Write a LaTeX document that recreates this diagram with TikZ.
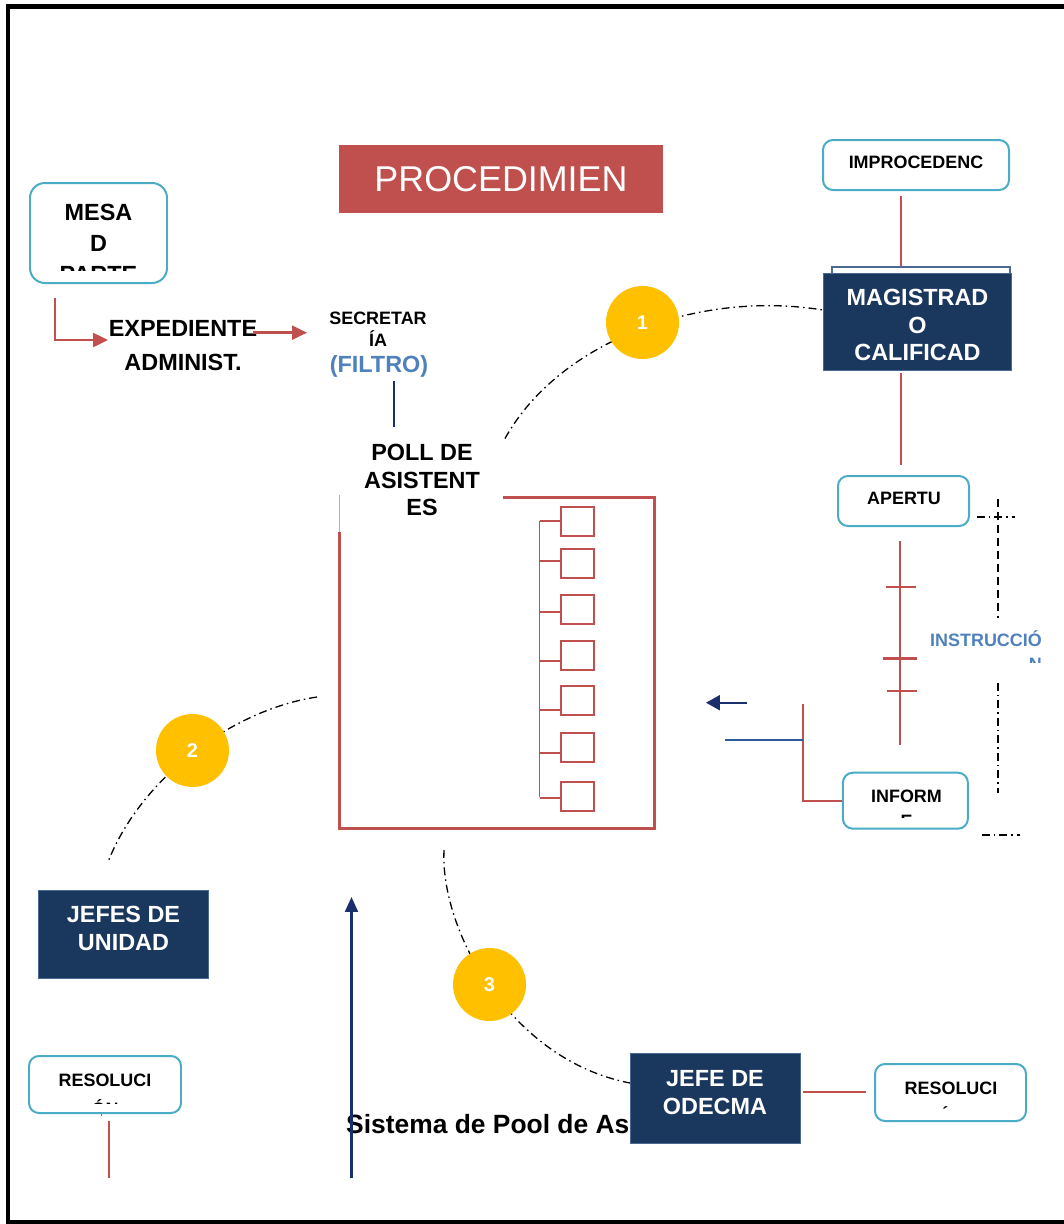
\documentclass[tikz,border=0pt]{standalone}
\usepackage{fontspec}
\setmainfont{Liberation Sans}
\usetikzlibrary{arrows.meta}

\definecolor{procred}{HTML}{C0504D}
\definecolor{boxcyan}{HTML}{4BACC6}
\definecolor{navyfill}{HTML}{1A375E}
\definecolor{navyedge}{HTML}{4A6A94}
\definecolor{navyarrow}{HTML}{1A2F6B}
\definecolor{navylink}{HTML}{2E5A96}
\definecolor{filtroblue}{HTML}{4F81BD}
\definecolor{badgegold}{HTML}{FFC000}

\begin{document}
\begin{tikzpicture}[x=1bp,y=-1bp,
  rbox/.style={draw=boxcyan, line width=2pt, rounded corners=10pt, fill=white, inner sep=0pt},
  nbox/.style={draw=navyedge, line width=1pt, fill=navyfill, inner sep=0pt},
  capA/.style={font=\bfseries\fontsize{23.5}{28}\selectfont, align=center, inner sep=0pt},
  capW/.style={capA, text=white},
  capS/.style={font=\bfseries\fontsize{18}{22}\selectfont, inner sep=0pt},
  redln/.style={draw=procred, line width=2.5pt},
  thinred/.style={draw=procred, line width=1.5pt},
  navyln/.style={draw=navyarrow, line width=2.2pt},
  cyc/.style={draw=black, line width=1.3pt, dash pattern=on 8pt off 4pt on 1.5pt off 4pt},
  badge/.style={circle, fill=badgegold, minimum size=73bp, inner sep=0pt, text=white,
                font=\bfseries\fontsize{20}{24}\selectfont},
  tip/.style={-{Triangle[length=15pt,width=14pt]}},
  slot/.style={draw=procred, line width=2pt, minimum width=33bp, minimum height=29bp, inner sep=0pt}
]
\useasboundingbox (0,0) rectangle (1064,1224);
\fill[white] (-6,-6) rectangle (1072,1230);

% outer frame (open on the right)
\draw[line width=4.5pt, black] (1072,6.5) -- (8,6.5) -- (8,1222.5) -- (1072,1222.5);

% title banner
\node[fill=procred, text=white, minimum width=324bp, minimum height=68bp, inner sep=0pt,
      font=\fontsize{36}{40}\selectfont] (title) at (501,179) {PROCEDIMIEN};

% ---- intake chain ----
\node[rbox, rounded corners=15pt, minimum width=137bp, minimum height=100bp] (mesa) at (98.5,233) {};
\begin{scope}
  \clip (32,185) rectangle (165,270);
  \node[capA, anchor=base] (mesa1) at (98.5,220.5) {MESA};
  \node[capA, anchor=base] (mesa2) at (98.5,251.5) {D};
  \node[capA, anchor=base] (mesa3) at (98.5,282) {PARTE};
\end{scope}

\node[capA, font=\bfseries\fontsize{23.5}{34}\selectfont] (expd) at (183,345.6) {EXPEDIENTE\\ADMINIST.};
\coordinate (mesaout) at (55,298);
\coordinate (expdin) at (108,340);
\draw[redln, tip] (mesaout) |- (expdin);

\node[capS, align=center] (secr) at (378,329.5) {SECRETAR\\ÍA};
\node[capA, text=filtroblue] (filtro) at (379,366) {(FILTRO)};
\coordinate (expdout) at (253,332.7);
\coordinate (secrin) at (307,332.7);
\draw[redln, tip] (expdout) -- (secrin);

\coordinate (filtrodown) at (394.3,380.5);
\coordinate (pooltop) at (394.3,426.5);
\draw[navyln] (filtrodown) -- (pooltop);

% ---- assistant pool ----
\node[capA] (poll) at (422,480) {POLL DE\\ASISTENT\\ES};
\draw[procred, line width=3pt] (503,497.3) -- (654.3,497.3) -- (654.3,828.3) -- (339.3,828.3) -- (339.3,531.7);
\draw[procred!55, line width=1pt] (339.3,531.7) -- (339.3,495);
\draw[thinred] (539.5,521) -- (539.5,797);
\foreach \i/\sy/\by in {1/521.5/521,2/563.5/561,3/609.5/612,4/655/661,5/700.5/710,6/747.5/753,7/796.5/798}{
  \node[slot] (slot\i) at (577.5,\sy) {};
  \draw[thinred] (539.5,\by) -- (slot\i.west |- 0,\by);
}

% ---- cycle arcs and step badges ----
\coordinate (arc1a) at (505,438.5);
\coordinate (arc1b) at (823,310);
\draw[cyc] (arc1a) .. controls (560,340) and (700,290) .. (arc1b);
\coordinate (arc2a) at (317,697);
\coordinate (arc2b) at (108,862);
\draw[cyc] (arc2a) .. controls (230,710) and (140,780) .. (arc2b);
\coordinate (arc3a) at (444,850);
\coordinate (arc3b) at (630,1083);
\draw[cyc] (arc3a) .. controls (440,930) and (510,1060) .. (arc3b);

\node[badge] (b1) at (642.5,322.5) {1};
\node[badge] (b2) at (192.5,750.5) {2};
\node[badge] (b3) at (489.5,984.5) {3};

% ---- magistrate column ----
\node[rbox, minimum width=186bp, minimum height=50bp] (improc) at (916,165) {};
\node[capS] (improctxt) at (916,162.5) {IMPROCEDENC};
\coordinate (improcout) at (901,196);
\coordinate (magisin) at (901,267);
\draw[redln] (improcout) -- (magisin);

\draw[navyedge, fill=white, line width=1.2pt] (832,267) rectangle (1010,290);
\node[nbox, minimum width=188bp, minimum height=97bp] (magis) at (917,321.5) {};
\node[capW, font=\bfseries\fontsize{23.5}{27.5}\selectfont] (magistxt) at (917.5,325) {MAGISTRAD\\O\\CALIFICAD};

\coordinate (magisout) at (901,373);
\coordinate (apertin) at (901,465);
\draw[redln] (magisout) -- (apertin);

\node[rbox, minimum width=131bp, minimum height=50bp] (apert) at (903.5,501) {};
\node[capS] (aperttxt) at (904,498.5) {APERTU};

\coordinate (instrtop) at (900,541);
\coordinate (instrbot) at (900,745);
\draw[redln] (instrtop) -- (instrbot);
\draw[procred, line width=2pt] (886,587) -- (915.7,587);
\draw[procred, line width=3pt] (883,658.3) -- (916.7,658.3);
\draw[procred, line width=2pt] (887,691) -- (916.7,691);

\begin{scope}
  \clip (900,600) rectangle (1064,662);
  \node[capS, text=filtroblue, anchor=base east] (instr1) at (1042,646.5) {INSTRUCCIÓ};
  \node[capS, text=filtroblue, anchor=base east] (instr2) at (1042,670) {N};
\end{scope}

% bracket around the instruction stage
\draw[black, line width=1.3pt, dash pattern=on 8pt off 4pt on 1.5pt off 4pt] (977,517) -- (1015,517);
\draw[black, line width=1.3pt, dash pattern=on 8pt off 5pt] (998,499) -- (998,618);
\draw[cyc] (998,683) -- (998,793);
\draw[cyc] (982,835) -- (1020,835);

\node[rbox, minimum width=125bp, minimum height=56bp] (inform) at (905.4,800.7) {};
\begin{scope}
  \clip (845,775) rectangle (966,817);
  \node[capS, anchor=base] (inform1) at (906.5,802) {INFORM};
  \node[capS, anchor=base] (inform2) at (906.5,827) {E};
\end{scope}

% report feeding back to the pool
\coordinate (fbtop) at (803.3,704);
\coordinate (fbjoin) at (803.3,740);
\coordinate (fbin) at (725,740);
\draw[procred, line width=2pt] (fbtop) |- (inform.west);
\draw[navylink, line width=2.2pt] (fbin) -- (fbjoin);
\coordinate (backs) at (747,702.7);
\coordinate (backe) at (706,702.7);
\draw[navyln, -{Triangle[length=14pt,width=15pt]}] (backs) -- (backe);

% ---- unit heads ----
\node[nbox, minimum width=170bp, minimum height=88bp] (jefes) at (123,934) {};
\node[capW, font=\bfseries\fontsize{23.5}{28.5}\selectfont] (jefestxt) at (123.5,928.3) {JEFES DE\\UNIDAD};

\draw[procred, line width=1pt] (101,1100) -- (101,1116);
\node[rbox, minimum width=152bp, minimum height=57bp] (resol1) at (105,1084.5) {};
\begin{scope}
  \clip (31,1058) rectangle (179,1103);
  \node[capS, anchor=base] (resol1a) at (105,1086) {RESOLUCI};
  \node[capS, anchor=base] (resol1b) at (105,1115) {ÓN};
\end{scope}
\coordinate (resol1out) at (109,1121);
\coordinate (resol1end) at (109,1178);
\draw[redln] (resol1out) -- (resol1end);

% ---- system caption and upward arrow ----
\node[font=\bfseries\fontsize{26.5}{30}\selectfont, anchor=base west, inner sep=0pt] (sistema) at (346,1133) {Sistema de Pool de As};
\coordinate (upstart) at (351.5,1178);
\coordinate (upend) at (351.5,897);
\draw[navyln, -{Triangle[length=15pt,width=13pt]}] (upstart) -- (upend);

% ---- ODECMA ----
\node[nbox, minimum width=170bp, minimum height=90bp] (odecma) at (715,1098) {};
\node[capW, font=\bfseries\fontsize{23.5}{28.5}\selectfont] (odecmatxt) at (715,1092.8) {JEFE DE\\ODECMA};

\node[rbox, minimum width=151bp, minimum height=57bp] (resol2) at (950.5,1092.5) {};
\begin{scope}
  \clip (877,1066) rectangle (1024,1108);
  \node[capS, anchor=base] (resol2a) at (951,1094.6) {RESOLUCI};
  \node[capS, anchor=base] (resol2b) at (951,1122) {ÓN};
\end{scope}
\coordinate (odecmaout) at (803,1092);
\coordinate (resol2in) at (866,1092);
\draw[redln] (odecmaout) -- (resol2in);
\end{tikzpicture}
\end{document}
